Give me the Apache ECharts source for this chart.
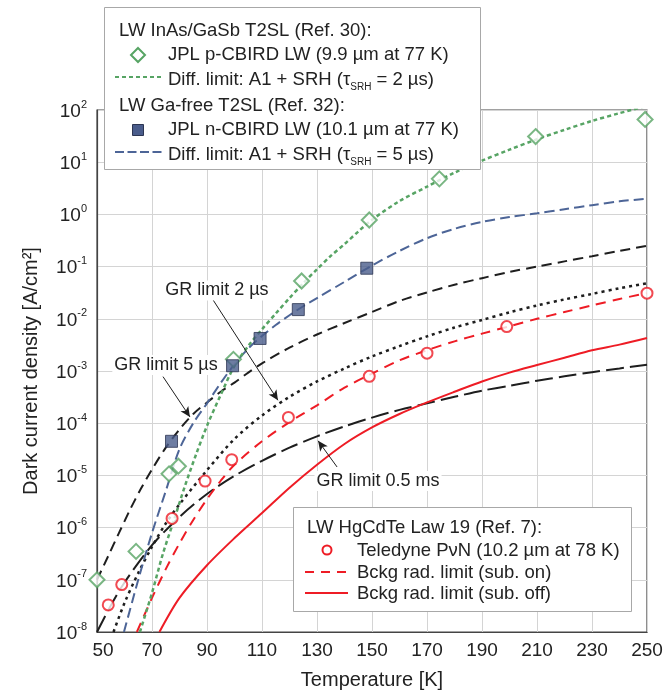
<!DOCTYPE html>
<html><head><meta charset="utf-8">
<script src="https://cdn.jsdelivr.net/npm/echarts@6/dist/echarts.min.js"></script>
<style>html,body{margin:0;padding:0;background:#fff}#c{width:666px;height:696px}</style>
</head><body><div id="c"></div>
<script>
// ---------- data (temperature [K], dark current density [A/cm2]) ----------
const jplP_T = [50, 64.2, 76.2, 79.6, 99.6, 124.4, 149, 174.5, 209.5, 249.3];
const jplP_J = [1.0e-7, 3.5e-7, 1.07e-5, 1.5e-5, 1.67e-3, 5.3e-2, 0.78, 4.8, 31, 66];

const jplN_T = [77.1, 99.3, 109.3, 123.2, 148.1];
const jplN_J = [4.5e-5, 1.26e-3, 4.2e-3, 1.5e-2, 9.3e-2];

const tel_T = [54.1, 59, 77.3, 89.3, 99, 119.6, 149, 170, 199, 250];
const tel_J = [3.3e-8, 8.1e-8, 1.5e-6, 7.8e-6, 2.0e-5, 1.29e-4, 7.9e-4, 2.2e-3, 7.1e-3, 3.1e-2];

const diffP_T = [65.6, 70, 74, 78, 82, 86, 90, 95, 100, 105, 110, 115, 120, 125, 130, 135, 140, 145, 150, 160, 170, 180, 190, 200, 210, 220, 230, 240, 250];
const diffP_J = [1e-8, 5.6e-8, 3.2e-7, 1.4e-6, 6.3e-6, 2.5e-5, 8.9e-5, 3.5e-4, 1.26e-3, 3.0e-3, 6.3e-3, 1.26e-2, 2.5e-2, 4.8e-2, 8.9e-2, 0.16, 0.27, 0.47, 0.79, 1.8, 3.4, 6.3, 10.7, 17.4, 27.5, 41.7, 61.7, 87, 120];

const diffN_T = [59.8, 65, 70, 75, 80, 85, 90, 95, 100, 105, 110, 115, 120, 125, 130, 140, 150, 160, 170, 180, 190, 200, 210, 220, 230, 240, 250];
const diffN_J = [1e-8, 1.0e-7, 7.9e-7, 5.0e-6, 3.2e-5, 1.0e-4, 2.4e-4, 5.9e-4, 1.35e-3, 2.7e-3, 4.7e-3, 7.6e-3, 1.17e-2, 1.74e-2, 2.5e-2, 5.1e-2, 0.105, 0.2, 0.35, 0.53, 0.72, 0.89, 1.05, 1.26, 1.5, 1.78, 2.0];

const gr5_T = [50, 54, 58, 62, 66, 70, 75, 80, 85, 90, 95, 100, 105, 110, 120, 130, 140, 150, 160, 170, 180, 190, 200, 210, 220, 230, 240, 250];
const gr5_J = [1e-7, 2.8e-7, 7.9e-7, 2.2e-6, 5.6e-6, 1.3e-5, 3.4e-5, 7.6e-5, 1.5e-4, 2.5e-4, 4.0e-4, 6.0e-4, 9.3e-4, 1.4e-3, 2.8e-3, 5.0e-3, 8.3e-3, 1.35e-2, 2.2e-2, 3.2e-2, 4.5e-2, 6.0e-2, 7.9e-2, 0.1, 0.126, 0.158, 0.2, 0.25];

const gr2_T = [56, 60, 65, 70, 75, 80, 90, 100, 110, 120, 130, 140, 150, 160, 170, 180, 190, 200, 210, 220, 230, 240, 250];
const gr2_J = [1e-8, 3.6e-8, 1.35e-7, 4.3e-7, 1.2e-6, 2.8e-6, 1.26e-5, 5.0e-5, 1.4e-4, 3.2e-4, 6.3e-4, 1.12e-3, 1.9e-3, 3.0e-3, 4.6e-3, 6.8e-3, 9.5e-3, 1.33e-2, 1.8e-2, 2.35e-2, 3.0e-2, 3.85e-2, 4.8e-2];

const gr05_T = [50, 55, 60, 70, 80, 90, 100, 110, 120, 130, 140, 150, 160, 170, 180, 190, 200, 210, 220, 230, 240, 250];
const gr05_J = [1e-8, 3.2e-8, 8.9e-8, 4.6e-7, 1.6e-6, 4.4e-6, 9.8e-6, 1.9e-5, 3.4e-5, 5.6e-5, 8.7e-5, 1.28e-4, 1.8e-4, 2.4e-4, 3.2e-4, 4.2e-4, 5.2e-4, 6.5e-4, 7.9e-4, 9.5e-4, 1.12e-3, 1.32e-3];

const bckOn_T = [64.5, 70, 75, 80, 85, 90, 95, 100, 110, 120, 130, 140, 150, 160, 170, 180, 190, 200, 210, 220, 230, 240, 250];
const bckOn_J = [1e-8, 4.5e-8, 1.6e-7, 5.0e-7, 1.4e-6, 3.5e-6, 7.9e-6, 1.6e-5, 4.5e-5, 1.05e-4, 2.2e-4, 4.8e-4, 8.9e-4, 1.6e-3, 2.5e-3, 3.7e-3, 5.2e-3, 7.2e-3, 1.0e-2, 1.35e-2, 1.8e-2, 2.4e-2, 3.1e-2];

const bckOff_T = [72.7, 80, 90, 100, 110, 120, 130, 140, 150, 160, 170, 180, 190, 200, 210, 220, 230, 240, 250];
const bckOff_J = [1e-8, 4.5e-8, 1.9e-7, 6.3e-7, 1.9e-6, 5.8e-6, 1.6e-5, 4.0e-5, 8.3e-5, 1.5e-4, 2.5e-4, 4.0e-4, 6.3e-4, 9.3e-4, 1.3e-3, 1.8e-3, 2.5e-3, 3.2e-3, 4.3e-3];

// annotations: [label, textT, textJ, fromT, fromJ, toT, toJ]
const notes = [
  ['GR limit 2 µs', 93.6, 3.5e-2, 92.2, 2.3e-2, 115.8, 2.75e-4],
  ['GR limit 5 µs', 75.1, 1.3e-3, 74.0, 7.8e-4, 83.8, 1.32e-4],
  ['GR limit 0.5 ms', 152.2, 7.8e-6, 137.3, 1.45e-5, 130.4, 4.6e-5]
];

const xTicks = {min: 50, max: 250, step: 20};
const yRange = {min: 1e-8, max: 100};

// ---------- chart ----------
const zip = (a, b) => a.map((v, i) => [v, b[i]]);
const GREEN = '#57a464', BLUE = '#4d6597', RED = '#ee1c25', BLACK = '#1e1e1e', TXT = '#222';
const FONT = 'Liberation Sans, Arial, sans-serif';

function lineS(name, T, J, color, type, width) {
  return {name, type: 'line', data: zip(T, J), showSymbol: false, smooth: 0.3,
    lineStyle: {color, type, width, cap: 'butt'}, clip: true, silent: true, z: 3};
}

const chart = echarts.init(document.getElementById('c'), null, {renderer: 'canvas'});

const series = [
  lineS('GR limit 0.5 ms', gr05_T, gr05_J, BLACK, [18, 6], 2),
  lineS('GR limit 2 µs', gr2_T, gr2_J, BLACK, [3, 4], 2.5),
  lineS('GR limit 5 µs', gr5_T, gr5_J, BLACK, [10, 6], 2),
  lineS('Bckg rad. limit (sub. off)', bckOff_T, bckOff_J, RED, 'solid', 2),
  lineS('Bckg rad. limit (sub. on)', bckOn_T, bckOn_J, RED, [10, 7], 2),
  lineS('Diff. limit 5 µs', diffN_T, diffN_J, BLUE, [10, 5], 2),
  lineS('Diff. limit 2 µs', diffP_T, diffP_J, GREEN, [4, 3], 2.5),
  {name: 'Teledyne', type: 'scatter', data: zip(tel_T, tel_J), symbol: 'circle', symbolSize: 11,
    itemStyle: {color: '#fff', borderColor: RED, borderWidth: 2}, z: 5, silent: true},
  {name: 'JPL p', type: 'scatter', data: zip(jplP_T, jplP_J), symbol: 'diamond', symbolSize: 15,
    itemStyle: {color: '#fff', borderColor: GREEN, borderWidth: 2}, z: 5, silent: true},
  {name: 'JPL n', type: 'scatter', data: zip(jplN_T, jplN_J), symbol: 'rect', symbolSize: 12,
    itemStyle: {color: '#4a5c8b', borderColor: '#2c3552', borderWidth: 1}, z: 6, silent: true},
  {name: 'notes', type: 'line', data: [], silent: true, z: 7,
    markLine: {silent: true, symbol: ['none', 'arrow'], symbolSize: [7, 10], animation: false,
      lineStyle: {color: BLACK, width: 1, type: 'solid'}, label: {show: false},
      data: notes.map(n => [{coord: [n[3], n[4]]}, {coord: [n[5], n[6]]}])},
    markPoint: {silent: true, symbol: 'circle', symbolSize: 1, animation: false,
      itemStyle: {color: 'rgba(0,0,0,0)'},
      label: {show: true, position: 'inside', formatter: p => p.name, color: TXT, fontSize: 18, fontFamily: FONT,
        backgroundColor: '#fff', padding: [1, 2]},
      data: notes.map(n => ({name: n[0], coord: [n[1], n[2]]}))}}
];

// legend drawing helpers (pixel layout of the legend boxes)
function legText(x, y, str) {
  return {type: 'text', x, y, style: {text: str, fill: TXT, font: '18.5px ' + FONT, verticalAlign: 'middle'}, z: 101};
}
function legRich(x, y, pre, sub, post) {
  return {type: 'text', x, y, z: 101, style: {
    text: '{a|' + pre + '}{s|' + sub + '}{a|' + post + '}', verticalAlign: 'middle',
    rich: {a: {fontSize: 18.5, fontFamily: FONT, fill: TXT, lineHeight: 22, verticalAlign: 'bottom'},
           s: {fontSize: 10, fontFamily: FONT, fill: TXT, lineHeight: 22, verticalAlign: 'bottom', padding: [0, 0, -3, 0]}}}};
}
function legLine(x1, x2, y, color, dash, w) {
  return {type: 'line', shape: {x1, y1: y, x2, y2: y}, style: {stroke: color, lineWidth: w || 2, lineDash: dash}, z: 101};
}

const graphic = [
  {type: 'rect', shape: {x: 104.5, y: 7.5, width: 376, height: 162}, style: {fill: '#fff', stroke: '#a8a8a8', lineWidth: 1}, z: 100},
  legText(119, 31, 'LW InAs/GaSb T2SL (Ref. 30):'),
  {type: 'polygon', shape: {points: [[138, 48], [145, 55], [138, 62], [131, 55]]}, style: {fill: '#fff', stroke: GREEN, lineWidth: 2}, z: 101},
  legText(168, 55, 'JPL p-CBIRD LW (9.9 µm at 77 K)'),
  legLine(115, 162, 77, GREEN, [4, 3], 2.2),
  legRich(168, 78, 'Diff. limit: A1 + SRH (τ', 'SRH', ' = 2 µs)'),
  legText(119, 106, 'LW Ga-free T2SL (Ref. 32):'),
  {type: 'rect', shape: {x: 132.5, y: 124.5, width: 11, height: 11}, style: {fill: '#4a5c8b', stroke: '#2c3552', lineWidth: 1}, z: 101},
  legText(168, 130, 'JPL n-CBIRD LW (10.1 µm at 77 K)'),
  legLine(115, 162, 152, BLUE, [9, 3.5], 2),
  legRich(168, 153, 'Diff. limit: A1 + SRH (τ', 'SRH', ' = 5 µs)'),

  {type: 'rect', shape: {x: 293.5, y: 507.5, width: 338, height: 104}, style: {fill: '#fff', stroke: '#a8a8a8', lineWidth: 1}, z: 100},
  legText(307, 528, 'LW HgCdTe Law 19 (Ref. 7):'),
  {type: 'circle', shape: {cx: 327, cy: 550, r: 4.5}, style: {fill: '#fff', stroke: RED, lineWidth: 2}, z: 101},
  legText(357, 551, 'Teledyne PνN (10.2 µm at 78 K)'),
  legLine(305, 348, 572, RED, [9, 7], 2),
  legText(357, 573, 'Bckg rad. limit (sub. on)'),
  legLine(305, 348, 593, RED, null, 2),
  legText(357, 594, 'Bckg rad. limit (sub. off)')
];

chart.setOption({
  animation: false,
  backgroundColor: '#fff',
  textStyle: {fontFamily: FONT},
  grid: {left: 97, right: 19, top: 110, bottom: 64, show: true, borderColor: '#444', borderWidth: 1.2, backgroundColor: 'transparent'},
  xAxis: {type: 'value', min: xTicks.min, max: xTicks.max, interval: xTicks.step,
    name: 'Temperature [K]', nameLocation: 'middle', nameGap: 38,
    nameTextStyle: {fontSize: 20, color: TXT, fontFamily: FONT},
    axisLine: {show: true, onZero: false, lineStyle: {color: '#444', width: 1.2}},
    axisTick: {show: false},
    axisLabel: {fontSize: 19, color: TXT, margin: 9, fontFamily: FONT,
      formatter: v => v === xTicks.min ? '{f|' + v + '}' : String(v),
      rich: {f: {fontSize: 19, color: TXT, fontFamily: FONT, padding: [0, 0, 0, 12]}}},
    splitLine: {show: true, lineStyle: {color: '#d4d4d4', width: 1}}},
  yAxis: {type: 'log', logBase: 10, min: yRange.min, max: yRange.max, interval: 1,
    name: 'Dark current density [A/cm²]', nameLocation: 'middle', nameGap: 56,
    nameTextStyle: {fontSize: 20, color: TXT, fontFamily: FONT},
    axisLine: {show: true, onZero: false, lineStyle: {color: '#444', width: 1.2}},
    axisTick: {show: false},
    axisLabel: {margin: 10, fontFamily: FONT, hideOverlap: false, showMinLabel: true, showMaxLabel: true,
      formatter: v => '{b|10}{s|' + Math.round(Math.log10(v)) + '}',
      rich: {b: {fontSize: 19, color: TXT, fontFamily: FONT, lineHeight: 22, verticalAlign: 'bottom'},
             s: {fontSize: 11, color: TXT, fontFamily: FONT, lineHeight: 22, verticalAlign: 'top'}}},
    splitLine: {show: true, lineStyle: {color: '#d4d4d4', width: 1}}},
  series,
  graphic
});
</script></body></html>
